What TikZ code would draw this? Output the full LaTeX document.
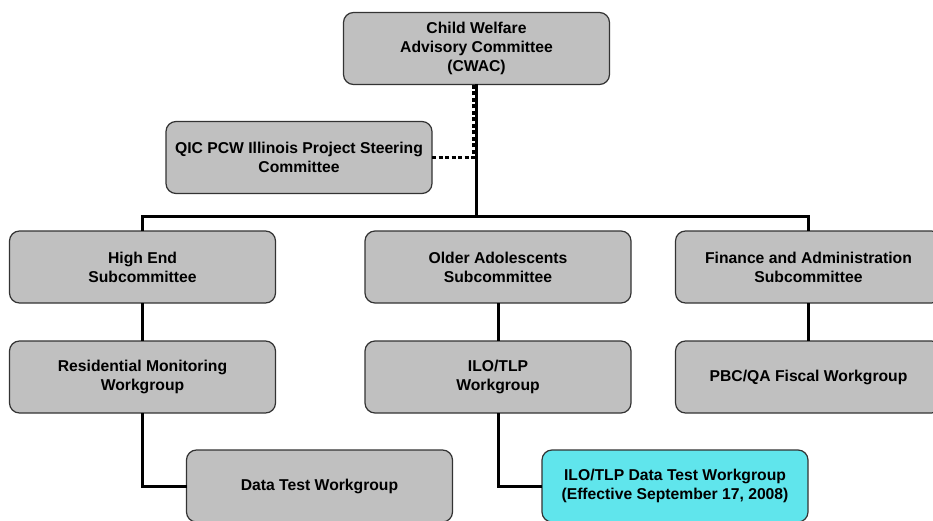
\documentclass[tikz,border=0pt]{standalone}
\usepackage{fontspec}
\setmainfont{Liberation Sans}
\usepackage{tikz}
\usetikzlibrary{positioning}
\definecolor{boxgray}{RGB}{192,192,192}
\definecolor{boxcyan}{RGB}{96,229,236}

\begin{document}
\begin{tikzpicture}[node distance={38pt}, main/.style = {draw=black!80, line width=1.2pt, fill=boxgray, rounded corners=10pt, minimum width=266pt, minimum height=72pt, inner sep=3pt, outer sep=0pt, align=center, font=\bfseries\fontsize{15.7}{19}\selectfont}, link/.style = {line width=3pt}, dotlink/.style = {line width=3.5pt, dash pattern=on 4pt off 2.5pt}]
\useasboundingbox (0,0) rectangle (933pt,-521pt);
\node[main] (cwac) at (476.5pt,-48.5pt) {Child Welfare\\Advisory Committee\\(CWAC)};
\node[main] (qic) [below left=37pt and -88.5pt of cwac] {QIC PCW Illinois Project Steering\\Committee};
\node[main] (older) [below=146.5pt of cwac, xshift=21.5pt] {Older Adolescents\\Subcommittee};
\node[main] (high) [left=89.5pt of older] {High End\\Subcommittee};
\node[main] (fin) [right=44.5pt of older] {Finance and Administration\\Subcommittee};
\node[main] (resid) [below=of high] {Residential Monitoring\\Workgroup};
\node[main] (ilo) [below=of older] {ILO/TLP\\Workgroup};
\node[main] (pbc) [below=of fin] {PBC/QA Fiscal Workgroup};
\node[main] (data) [below right=37pt and -89pt of resid] {Data Test Workgroup};
\node[main, fill=boxcyan] (ilodata) [below right=37pt and -89pt of ilo] {ILO/TLP Data Test Workgroup\\(Effective September 17, 2008)};

\coordinate (bar) at (476.5pt,-217pt);
\draw[dotlink] (qic) -| ([xshift=-2.5pt]cwac.south);
\draw[link] (cwac) -- (bar);
\draw[link] (high) |- (bar) -| (fin);
\draw[link] (high) -- (resid);
\draw[link] (older) -- (ilo);
\draw[link] (fin) -- (pbc);
\draw[link] (resid) |- (data);
\draw[link] (ilo) |- (ilodata);
\end{tikzpicture}
\end{document}
